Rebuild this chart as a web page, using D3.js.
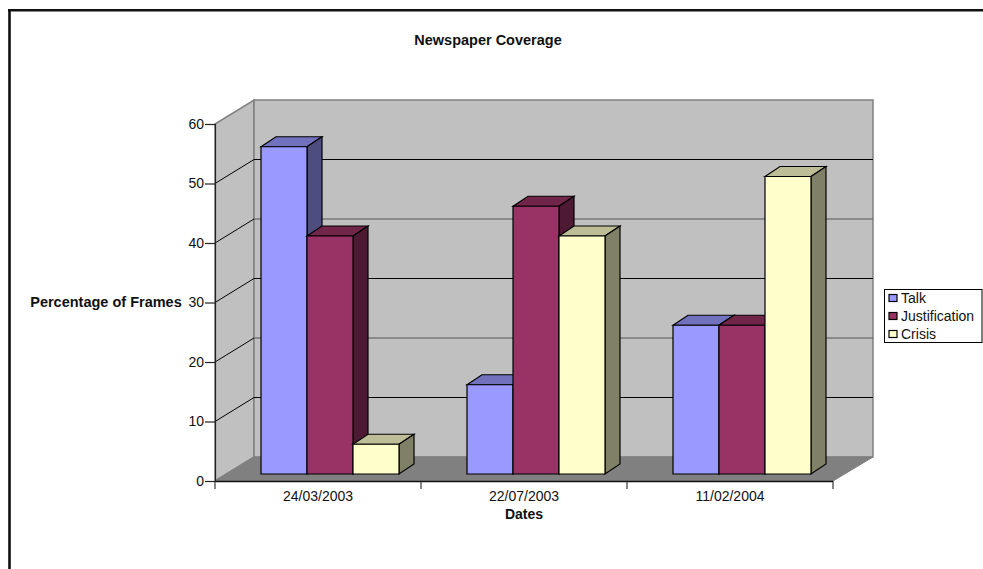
<!DOCTYPE html>
<html><head><meta charset="utf-8">
<script src="https://cdn.jsdelivr.net/npm/d3@7"></script>
<style>html,body{margin:0;padding:0;background:#fff}svg{display:block}text{font-family:"Liberation Sans",Arial,sans-serif;fill:#111}</style>
</head><body><svg id="c" width="983" height="569"></svg>
<script>
const categories = ["24/03/2003","22/07/2003","11/02/2004"];
const seriesNames = ["Talk","Justification","Crisis"];
const talk = [55,15,25];
const justification = [40,45,25];
const crisis = [5,40,50];
const yTicks = [0,10,20,30,40,50,60];
const faces = {Talk:["#9999ff","#7171bd","#4d4d80"],Justification:["#993366","#712549","#4d1933"],Crisis:["#ffffcc","#bdbd97","#808066"]};
const values = {Talk:talk,Justification:justification,Crisis:crisis};

const svg = d3.select("#c");
const left=215,right=833,y0=481,y60=124,dx=39,dy=24,bdx=15,bdy=10,barW=46;
const x = d3.scaleBand().domain(categories).range([left,right]);
const y = d3.scaleLinear().domain([0,60]).range([y0,y60]);
const poly=(pts,fill,stroke,sw)=>svg.append("polygon").attr("points",pts.map(p=>p.join(",")).join(" ")).attr("fill",fill).attr("stroke",stroke).attr("stroke-width",sw);
const line=(a,b,c,d,s,w)=>svg.append("line").attr("x1",a).attr("y1",b).attr("x2",c).attr("y2",d).attr("stroke",s).attr("stroke-width",w);

// frame: top and left edges only
line(8,10.3,983,10.3,"#111",2.6);
line(9.5,9,9.5,569,"#111",2.6);

// title
svg.append("text").attr("x",488).attr("y",45).attr("text-anchor","middle").attr("font-size",14.5).attr("font-weight","bold").text("Newspaper Coverage");

// walls
poly([[left,y0],[left+dx,y0-dy],[left+dx,y60-dy],[left,y60]],"#c0c0c0","#808080",1.5);
poly([[left+dx,y0-dy],[right+dx+1,y0-dy],[right+dx+1,y60-dy],[left+dx,y60-dy]],"#c0c0c0","#808080",1.5);
poly([[left,y0],[right,y0],[right+dx+1,y0-dy],[left+dx,y0-dy]],"#808080","#808080",1);

// gridlines
yTicks.slice(1,-1).forEach(t=>{
  const c = (t%20===0) ? "#555" : "#000";
  line(left,y(t),left+dx,y(t)-dy,"#000",1);
  line(left+dx,y(t)-dy,right+dx+1,y(t)-dy,c,1);
});

// axes
const yAxis = d3.axisLeft(y).tickValues(yTicks).tickSize(10).tickPadding(1);
const gy = svg.append("g").attr("transform",`translate(${left},0)`).call(yAxis);
const xAxis = d3.axisBottom(x).tickValues(categories).tickSize(0).tickPadding(10);
const gx = svg.append("g").attr("transform",`translate(0,${y0})`).call(xAxis);
[gy,gx].forEach(g=>{g.selectAll("text").attr("font-size",14).attr("font-family",'"Liberation Sans",Arial,sans-serif');
 g.selectAll("path,line").attr("stroke","#222").attr("stroke-width",1.2);
 g.select(".domain").attr("stroke","#222");});
gx.select(".domain").attr("stroke","#111").attr("stroke-width",1.4);
[left,...categories.map(c=>x(c)+x.bandwidth())].forEach(v=>line(v,y0+1,v,y0+8,"#555",1.4));

// bars
const off = 12, offY = 7;
categories.forEach((cat,i)=>{
  const start = x(cat)+(x.bandwidth()-3*barW)/2+off;
  seriesNames.forEach((s,j)=>{
    const v = values[s][i];
    const xl = start+j*barW, xr = xl+barW, top = y(v)-offY, bot = y0-offY;
    const f = faces[s];
    poly([[xl,top],[xl+bdx,top-bdy],[xr+bdx,top-bdy],[xr,top]],f[1],"#000",1.2);
    poly([[xr,top],[xr+bdx,top-bdy],[xr+bdx,bot-bdy],[xr,bot]],f[2],"#000",1.2);
    poly([[xl,top],[xr,top],[xr,bot],[xl,bot]],f[0],"#000",1.2);
  });
});

// axis titles
svg.append("text").attr("x",106).attr("y",307).attr("text-anchor","middle").attr("font-size",14.5).attr("font-weight","bold").text("Percentage of Frames");
svg.append("text").attr("x",524).attr("y",519).attr("text-anchor","middle").attr("font-size",14).attr("font-weight","bold").text("Dates");

// legend
svg.append("rect").attr("x",884.5).attr("y",289.5).attr("width",97.5).attr("height",53).attr("fill","#fff").attr("stroke","#000").attr("stroke-width",1);
seriesNames.forEach((s,j)=>{
  const yy=298+j*18;
  svg.append("rect").attr("x",889).attr("y",yy-3.5).attr("width",8).attr("height",7).attr("fill",faces[s][0]).attr("stroke","#000").attr("stroke-width",1.2);
  svg.append("text").attr("x",901).attr("y",yy+5).attr("font-size",14).text(s);
});
</script></body></html>
